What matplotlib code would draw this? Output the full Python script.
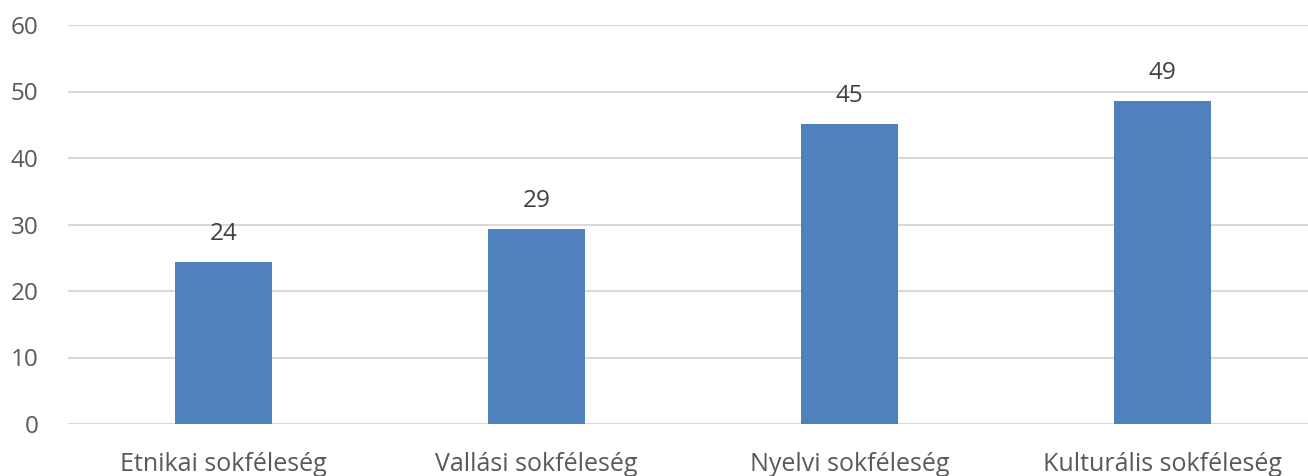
import matplotlib
matplotlib.use('Agg')
import matplotlib.pyplot as plt
import numpy as np

# data
categories = ['Etnikai sokféleség', 'Vallási sokféleség', 'Nyelvi sokféleség', 'Kulturális sokféleség']
values = [24.4, 29.3, 45.1, 48.6]
labels = ['24', '29', '45', '49']
yticks = [0, 10, 20, 30, 40, 50, 60]

plt.rcParams['font.family'] = ['Open Sans', 'DejaVu Sans']

fig = plt.figure(figsize=(13.08, 4.76), dpi=100)
W, H = 1308, 476
# axes placed in pixel coords (left, bottom, width, height)
ax = fig.add_axes([67.5 / W, (H - 424) / H, 1251 / W, 399 / H])

x = np.arange(len(categories))
bars = ax.bar(x, values, width=0.31, color='#4f81bd', zorder=3)

for b, lab in zip(bars, labels):
    ax.annotate(lab, (b.get_x() + b.get_width() / 2, b.get_height()),
                xytext=(0, 20), textcoords='offset points',
                ha='center', va='center', fontsize=17.5, color='#404040')

ax.set_xlim(-0.5, len(categories) - 0.5)
ax.set_ylim(0, 60)
ax.set_yticks(yticks)
ax.set_xticks(x)
ax.set_xticklabels(categories)
ax.grid(axis='y', color='#d9d9d9', linewidth=1.5, zorder=0)
for s in ax.spines.values():
    s.set_visible(False)
ax.tick_params(axis='both', length=0, labelcolor='#595959')
ax.tick_params(axis='y', pad=21, labelsize=17.5)
ax.tick_params(axis='x', pad=20, labelsize=18)

fig.savefig('out.png', dpi=100)
